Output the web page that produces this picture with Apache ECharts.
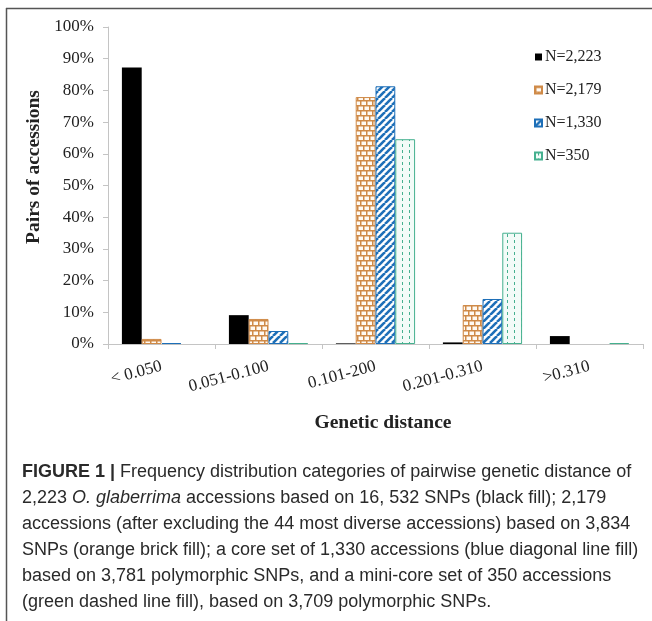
<!DOCTYPE html>
<html><head><meta charset="utf-8">
<script src="https://cdn.jsdelivr.net/npm/echarts@6/dist/echarts.min.js"></script>
<style>html,body{margin:0;padding:0;background:#fff}#c{width:652px;height:621px}</style>
</head><body><div id="c"></div>
<script>
// ---- data ----
const categories = ['< 0.050', '0.051-0.100', '0.101-200', '0.201-0.310', '>0.310'];
const seriesNames = ['N=2,223', 'N=2,179', 'N=1,330', 'N=350'];
const valuesN2223 = [87.2, 9.1, 0.2, 0.5, 2.5];
const valuesN2179 = [1.6, 7.9, 77.9, 12.3, 0];
const valuesN1330 = [0.3, 4.1, 81.3, 14.2, 0];
const valuesN350  = [0, 0.3, 64.6, 35.1, 0.3];
const yAxisTitle = 'Pairs of accessions';
const xAxisTitle = 'Genetic distance';
const captionLines = [
  '{b|FIGURE 1 |} Frequency distribution categories of pairwise genetic distance of',
  '2,223 {i|O. glaberrima} accessions based on 16, 532 SNPs (black fill); 2,179',
  'accessions (after excluding the 44 most diverse accessions) based on 3,834',
  'SNPs (orange brick fill); a core set of 1,330 accessions (blue diagonal line fill)',
  'based on 3,781 polymorphic SNPs, and a mini-core set of 350 accessions',
  '(green dashed line fill), based on 3,709 polymorphic SNPs.'
];

// ---- patterns ----
function mk(w, h, draw) {
  const c = document.createElement('canvas'); c.width = w; c.height = h;
  draw(c.getContext('2d'), w, h); return c;
}
const ORANGE = '#cf8a48', BLUE = '#1d6fb8', GREEN = '#45b08f';
const brick = mk(12, 10, (g, w, h) => {
  g.fillStyle = '#fffaf3'; g.fillRect(0, 0, w, h);
  g.fillStyle = ORANGE;
  g.fillRect(0, 0, w, 1.5); g.fillRect(0, 5, w, 1.5);
  g.fillRect(0, 0, 1.5, 5); g.fillRect(6, 0, 1.5, 5);
  g.fillRect(3, 5, 1.5, 5); g.fillRect(9, 5, 1.5, 5);
});
const diag = mk(7, 7, (g, w, h) => {
  g.fillStyle = '#ffffff'; g.fillRect(0, 0, w, h);
  g.strokeStyle = BLUE; g.lineWidth = 2.6;
  for (let k = -1; k <= 1; k++) {
    g.beginPath(); g.moveTo(k * w, h); g.lineTo(k * w + w, 0); g.stroke();
  }
});
const dashed = mk(7, 6, (g, w, h) => {
  g.fillStyle = '#f3fbf8'; g.fillRect(0, 0, w, h);
  g.fillStyle = GREEN; g.fillRect(3, 0, 1, 3);
});

const styles = [
  { color: '#000000', borderColor: '#000000', borderWidth: 0 },
  { color: { image: brick, repeat: 'repeat' }, borderColor: ORANGE, borderWidth: 1 },
  { color: { image: diag, repeat: 'repeat' }, borderColor: BLUE, borderWidth: 1 },
  { color: { image: dashed, repeat: 'repeat' }, borderColor: GREEN, borderWidth: 1 }
];
const allValues = [valuesN2223, valuesN2179, valuesN1330, valuesN350];

const serif = 'Liberation Serif';
const chart = echarts.init(document.getElementById('c'), null, { renderer: 'canvas' });

const captionTop = 472, captionStep = 26;
const graphics = [
  { type: 'line', shape: { x1: 6, y1: 8.5, x2: 652, y2: 8.5 }, style: { stroke: '#555', lineWidth: 1.5 } },
  { type: 'line', shape: { x1: 6.5, y1: 8, x2: 6.5, y2: 621 }, style: { stroke: '#555', lineWidth: 1.5 } },
  { type: 'text', x: 34, y: 167, rotation: Math.PI / 2,
    style: { text: yAxisTitle, font: 'bold 19.5px "Liberation Serif"', fill: '#222', align: 'center', verticalAlign: 'middle' } },
  { type: 'text', x: 383, y: 423,
    style: { text: xAxisTitle, font: 'bold 19.5px "Liberation Serif"', fill: '#222', align: 'center', verticalAlign: 'middle' } }
];
captionLines.forEach((t, i) => {
  graphics.push({ type: 'text', x: 22, y: captionTop + i * captionStep,
    style: { text: t, fontFamily: 'Liberation Sans', fontSize: 18, fill: '#2a2a2a', align: 'left', verticalAlign: 'middle',
      rich: {
        b: { fontFamily: 'Liberation Sans', fontSize: 18, fontWeight: 'bold', fill: '#2a2a2a' },
        i: { fontFamily: 'Liberation Sans', fontSize: 18, fontStyle: 'italic', fill: '#2a2a2a' }
      } } });
});

chart.setOption({
  animation: false,
  backgroundColor: '#ffffff',
  grid: { left: 108, right: 9, top: 27, bottom: 277, containLabel: false },
  legend: {
    orient: 'vertical', left: 529, top: 44, itemGap: 17,
    itemWidth: 7, itemHeight: 7, icon: 'rect',
    textStyle: { fontFamily: serif, fontSize: 16, color: '#222', padding: [0, 0, 0, -2] },
    data: seriesNames
  },
  xAxis: {
    type: 'category', data: categories,
    axisLine: { lineStyle: { color: '#c4c4c4', width: 1 } },
    axisTick: { show: true, alignWithLabel: false, length: 5, lineStyle: { color: '#c4c4c4' } },
    axisLabel: { interval: 0, rotate: 15, margin: 22, fontFamily: serif, fontSize: 17, color: '#222' }
  },
  yAxis: {
    type: 'value', min: 0, max: 100, interval: 10,
    axisLine: { show: true, lineStyle: { color: '#c4c4c4', width: 1 } },
    axisTick: { show: true, length: 5, lineStyle: { color: '#c4c4c4' } },
    splitLine: { show: false },
    axisLabel: { formatter: '{value}%', margin: 14, fontFamily: serif, fontSize: 17, color: '#222' }
  },
  series: allValues.map((vals, i) => ({
    type: 'bar', name: seriesNames[i],
    data: vals.map(v => (v === 0 ? '-' : v)),
    barGap: '0%', barCategoryGap: '26%',
    itemStyle: styles[i]
  })),
  graphic: graphics
});
</script>
</body></html>
